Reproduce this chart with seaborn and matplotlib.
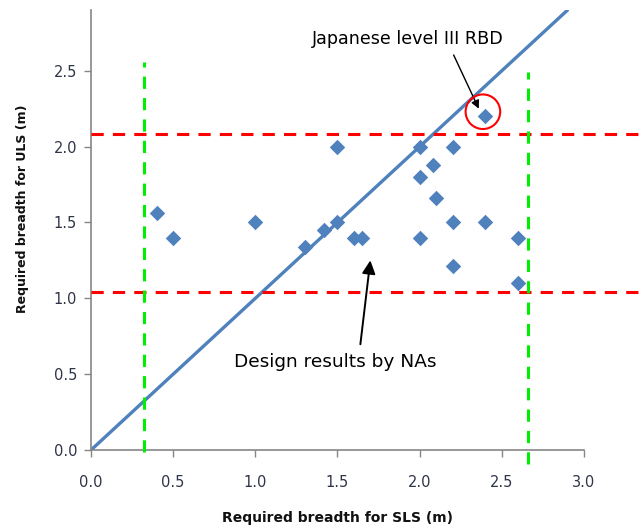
import matplotlib

matplotlib.use("Agg")
import matplotlib.pyplot as plt
import pandas as pd
import seaborn as sns

# design results by national annexes: (SLS breadth, ULS breadth)
sls_breadth = [0.4, 0.5, 1.0, 1.3, 1.42, 1.5, 1.5, 1.6, 1.65, 2.0, 2.0, 2.0,
               2.08, 2.1, 2.2, 2.2, 2.2, 2.4, 2.6, 2.6]
uls_breadth = [1.56, 1.4, 1.5, 1.34, 1.45, 1.5, 2.0, 1.4, 1.4, 2.0, 1.8, 1.4,
               1.88, 1.66, 2.0, 1.5, 1.21, 1.5, 1.4, 1.1]

# Japanese level III RBD point
jp_point = (2.4, 2.2)

# 1:1 line
line_x = [0.0, 2.9]
line_y = [0.0, 2.9]

# limits of the design range
uls_limits = [2.08, 1.04]
sls_limits = [0.32, 2.66]

blue = "#4F81BD"

df = pd.DataFrame({"SLS": sls_breadth + [jp_point[0]],
                   "ULS": uls_breadth + [jp_point[1]]})

sns.set_style("white")
plt.rcParams["font.family"] = ["DejaVu Sans"]

fig = plt.figure(figsize=(6.41, 5.31), dpi=100)
ax = fig.add_axes([0.142, 0.1525, 0.769, 0.8285])

sns.lineplot(x=line_x, y=line_y, ax=ax, color=blue, linewidth=2.4, zorder=2)
sns.scatterplot(data=df, x="SLS", y="ULS", ax=ax, marker="D", s=62,
                color=blue, edgecolor=blue, linewidth=0, zorder=3)

# red horizontal and green vertical limits (run past the axes)
for yv in uls_limits:
    ax.plot([0, 3.36], [yv, yv], color="#FF0000", linewidth=2.2,
            dashes=(4, 3), clip_on=False, zorder=4)
ax.plot([sls_limits[0]] * 2, [-0.01, 2.56], color="#00EE00", linewidth=2.2,
        dashes=(4, 3), clip_on=False, zorder=4)
ax.plot([sls_limits[1]] * 2, [-0.09, 2.49], color="#00EE00", linewidth=2.2,
        dashes=(4, 3), clip_on=False, zorder=4)

# circle around the Japanese point
ax.scatter([2.385], [2.23], s=620, facecolors="none", edgecolors="#FF0000",
           linewidths=1.5, zorder=5)

ax.annotate("Japanese level III RBD", xy=(2.36, 2.25), xytext=(1.93, 2.71),
            ha="center", va="center", fontsize=12.6, color="black",
            arrowprops=dict(arrowstyle="-|>", color="black", lw=1.0,
                            relpos=(0.72, 0.0), shrinkA=3, shrinkB=0,
                            mutation_scale=12))
ax.annotate("Design results by NAs", xy=(1.7, 1.25), xytext=(1.485, 0.58),
            ha="center", va="center", fontsize=13.3, color="black",
            arrowprops=dict(arrowstyle="-|>", color="black", lw=1.4,
                            relpos=(0.62, 1.0), shrinkA=4, shrinkB=0,
                            mutation_scale=20))

ax.set_xlim(0, 3.0)
ax.set_ylim(0, 2.9)
ax.set_xticks([0.0, 0.5, 1.0, 1.5, 2.0, 2.5, 3.0])
ax.set_yticks([0.0, 0.5, 1.0, 1.5, 2.0, 2.5])
ax.xaxis.set_major_formatter(matplotlib.ticker.FormatStrFormatter("%.1f"))
ax.yaxis.set_major_formatter(matplotlib.ticker.FormatStrFormatter("%.1f"))

for side in ["top", "right"]:
    ax.spines[side].set_visible(False)
for side in ["left", "bottom"]:
    ax.spines[side].set_color("#868686")
    ax.spines[side].set_linewidth(1.2)
ax.tick_params(axis="both", direction="out", length=5, width=1,
               color="#868686", labelcolor="#2F3448", labelsize=10.5,
               bottom=True, left=True)
ax.tick_params(axis="x", pad=13)
ax.tick_params(axis="y", pad=5)

ax.set_xlabel("")
ax.set_ylabel("")
fig.text(338 / 641, 1 - 518 / 531, "Required breadth for SLS (m)",
         ha="center", va="center", fontsize=10, fontweight="bold",
         color="#111111")
fig.text(23 / 641, 1 - 209 / 531, "Required breadth for ULS (m)",
         ha="center", va="center", rotation=90, fontsize=9,
         fontweight="bold", color="#111111")

fig.savefig("out.png", dpi=100)
